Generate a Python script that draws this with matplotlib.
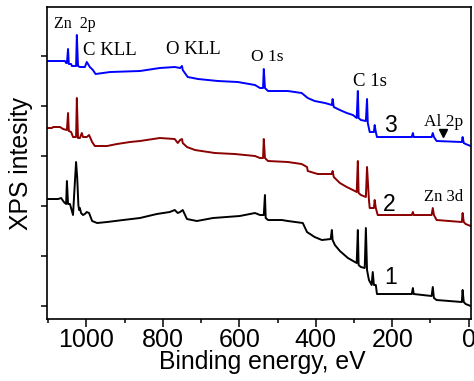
import numpy as np
import matplotlib
matplotlib.use("Agg")
import matplotlib.pyplot as plt
from matplotlib.ticker import MultipleLocator

# Survey spectra, binding energy (eV) vs intensity (a.u., curves already stacked)
E_3 = [1103, 1056, 1053, 1051, 1048, 1046, 1040, 1038, 1027, 1025, 1022, 1017,
       1004, 999, 991, 983, 976, 938, 860, 808, 769, 755, 750, 748, 735, 708,
       656, 604, 559, 546, 538, 536, 533, 525, 473, 437, 421, 403, 376, 358,
       356, 353, 337, 319, 303, 293, 290, 288, 282, 269, 266, 264, 259, 248,
       246, 243, 240, 149, 146, 144, 97, 94, 91, 84, 18, 16, 13, 8, -5]
I_3 = [245, 245, 243, 243, 257, 242, 242, 240, 240, 271, 240, 239,
       239, 244, 239, 236, 232, 234, 235, 238, 239, 238, 240, 236, 229, 227,
       225, 224, 221, 218, 218, 237, 218, 215, 215, 213, 208, 205, 203, 201,
       207, 199, 196, 193, 191, 188, 215, 188, 186, 185, 207, 183, 174, 174,
       181, 174, 169, 169, 173, 169, 169, 173, 169, 165, 164, 169, 163, 162, 160]

E_2 = [1103, 1090, 1087, 1069, 1061, 1051, 1048, 1046, 1040, 1035, 1027, 1025,
       1022, 1017, 1012, 1009, 999, 993, 985, 978, 946, 920, 886, 860, 808,
       769, 761, 755, 750, 748, 737, 716, 664, 612, 559, 546, 538, 536, 533,
       525, 473, 437, 423, 421, 395, 358, 356, 353, 337, 319, 303, 293, 290,
       288, 282, 269, 266, 261, 259, 248, 246, 243, 238, 149, 146, 144, 97,
       94, 91, 84, 18, 16, 13, 8, -5]
I_2 = [178, 178, 179, 179, 177, 176, 193, 175, 174, 169, 169, 208,
       168, 168, 173, 169, 169, 171, 164, 160, 160, 162, 164, 165, 168,
       167, 163, 166, 167, 163, 159, 156, 153, 152, 150, 148, 148, 167, 148,
       145, 144, 142, 139, 135, 132, 132, 135, 129, 123, 119, 116, 114, 145,
       113, 111, 109, 139, 106, 98, 98, 106, 98, 91, 91, 94, 91, 91,
       98, 91, 86, 84, 93, 84, 82, 80]

E_1 = [1103, 1074, 1066, 1059, 1053, 1051, 1048, 1043, 1035, 1031, 1027, 1024,
       1021, 1019, 1017, 1014, 1009, 1004, 999, 993, 985, 972, 946, 904, 860,
       816, 782, 769, 761, 755, 748, 737, 711, 669, 599, 559, 546, 536, 533,
       531, 525, 489, 473, 434, 423, 403, 384, 361, 358, 356, 350, 337, 316,
       293, 290, 288, 282, 272, 269, 266, 261, 254, 251, 248, 243, 240, 149,
       146, 144, 97, 94, 91, 84, 18, 16, 13, 8, -5]
I_1 = [107, 107, 108, 104, 102, 125, 102, 102, 91, 118, 144, 128,
       101, 96, 98, 93, 91, 92, 94, 93, 85, 83, 84, 86, 88,
       92, 94, 96, 93, 94, 96, 87, 85, 88, 90, 93, 91, 91, 111,
       88, 86, 86, 85, 83, 74, 69, 66, 67, 76, 66, 61, 55, 48,
       43, 76, 41, 39, 38, 78, 36, 26, 21, 34, 21, 21, 12, 12,
       18, 12, 10, 19, 8, 6, 4, 16, 4, 2, 0]

CURVES = [(E_1, I_1, "black"), (E_2, I_2, "#8b0000"), (E_3, I_3, "#0000ff")]

# Peak labels: text, energy, intensity, font size
PEAK_LABELS = [
    ("Zn  2p", 1085, 278, 11.5),
    ("C KLL", 1009, 251, 13.5),
    ("O KLL", 792, 252, 13.5),
    ("O 1s", 570, 245, 12.5),
    ("C 1s", 303, 220, 13.5),
    ("Al 2p", 118, 180, 12.5),
    ("Zn 3d", 118, 105, 12),
]
CURVE_NUMBERS = [("1", 220, 22), ("2", 225, 95), ("3", 222, 174)]

SANS = "Liberation Sans"
SERIF = "Liberation Serif"


def draw_spectra(ax):
    """Plot the three stacked survey spectra."""
    for energy, intensity, color in CURVES:
        ax.plot(energy, intensity, color=color, lw=1.4)


def add_labels(ax):
    """Peak names, curve numbers and the Al 2p marker."""
    for text, x, y, size in PEAK_LABELS:
        ax.text(x, y, text, family=SERIF, fontsize=size, ha="left", va="baseline")
    for text, x, y in CURVE_NUMBERS:
        ax.text(x, y, text, family=SANS, fontsize=16.5, ha="left", va="baseline")
    ax.plot([68], [173], marker="v", color="black", markersize=6)


def style_axes(ax):
    ax.set_xlim(1103, -6)
    ax.set_ylim(-13, 299)
    ax.xaxis.set_major_locator(MultipleLocator(200))
    ax.xaxis.set_minor_locator(MultipleLocator(100))
    ax.set_yticks(np.arange(0, 251, 50))
    ax.set_yticklabels([])
    ax.tick_params(axis="x", which="major", direction="out", length=5.8, width=1.1,
                   labelsize=18, pad=1)
    ax.tick_params(axis="x", which="minor", direction="out", length=3, width=1.1)
    ax.tick_params(axis="y", direction="out", length=4.3, width=1.1)
    for label in ax.get_xticklabels():
        label.set_family(SANS)
    for spine in ax.spines.values():
        spine.set_linewidth(1.2)
    ax.set_xlabel("Binding energy, eV", family=SANS, fontsize=17.8)
    ax.set_ylabel("XPS intesity", family=SANS, fontsize=17.8)
    ax.xaxis.set_label_coords(0.507, -0.10)
    ax.yaxis.set_label_coords(-0.033, 0.5)


def main():
    fig = plt.figure(figsize=(4.74, 3.81), dpi=100)
    ax = fig.add_axes([0.0992, 0.1627, 0.8945, 0.8189])
    draw_spectra(ax)
    add_labels(ax)
    style_axes(ax)
    fig.savefig("out.png", dpi=100)


if __name__ == "__main__":
    main()
